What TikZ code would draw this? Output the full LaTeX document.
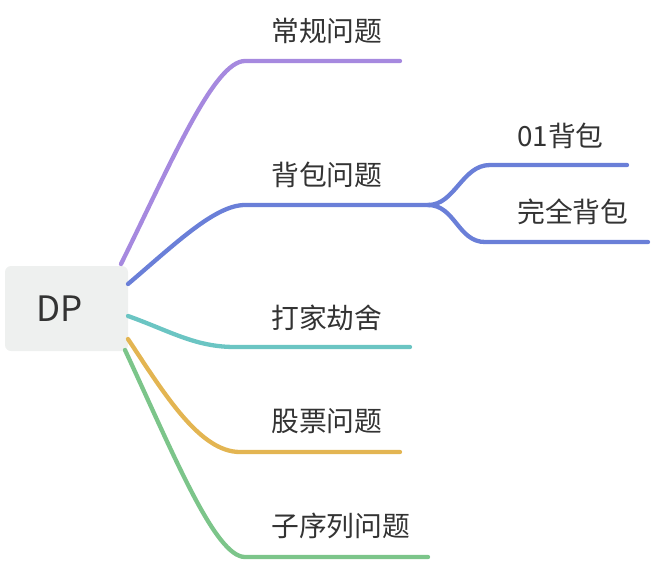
\documentclass[tikz,border=0pt]{standalone}
\usepackage{fontspec}
\setmainfont{Noto Sans CJK SC}
\definecolor{cpurple}{HTML}{A689DF}
\definecolor{cblue}{HTML}{6A7FD8}
\definecolor{cteal}{HTML}{6BC5C3}
\definecolor{corange}{HTML}{E3B552}
\definecolor{cgreen}{HTML}{7CC58A}
\definecolor{rootbg}{HTML}{EEF0EF}
\definecolor{txt}{HTML}{333333}
\begin{document}
\begin{tikzpicture}[x=1pt,y=-1pt,
  lbl/.style={anchor=west, inner sep=0pt, text=txt, font=\fontsize{27.8}{32}\selectfont},
  br/.style={line width=4.3pt, line cap=round}]
\useasboundingbox (0,0) rectangle (652,560);
% root
\node[fill=rootbg, rounded corners=6pt, minimum width=123pt, minimum height=85pt, inner sep=0pt,
      text=txt, font=\fontsize{35}{40}\selectfont] (root) at (66.5,308.5) {DP\hspace*{13pt}};
% coordinates
\coordinate (sP) at (121,264); \coordinate (mP) at (245,61);  \coordinate (eP) at (400,61);
\coordinate (sB) at (128,284); \coordinate (mB) at (245,205); \coordinate (kB) at (428,205);
\coordinate (mB1) at (490,165); \coordinate (eB1) at (627,165);
\coordinate (mB2) at (485,242); \coordinate (eB2) at (648,242);
\coordinate (sT) at (128,316); \coordinate (mT) at (235,347); \coordinate (eT) at (410,347);
\coordinate (sO) at (128,339); \coordinate (mO) at (240,452); \coordinate (eO) at (400,452);
\coordinate (sG) at (125,350); \coordinate (mG) at (245,557); \coordinate (eG) at (428,557);
% labels
\node[lbl] (l1) at (271,31) {常规问题};
\node[lbl] (l2) at (271,175) {背包问题};
\node[lbl] (l21) at (517,136) {01背包};
\node[lbl] (l22) at (517,212) {完全背包};
\node[lbl] (l3) at (271,318) {打家劫舍};
\node[lbl] (l4) at (271,421) {股票问题};
\node[lbl] (l5) at (271,526) {子序列问题};
% branches
\draw[br, cpurple] (sP) .. controls (171,163) and (214,61) .. (mP) -- (eP);
\draw[br, cblue] (sB) .. controls (175,244) and (215,205) .. (mB) -- (kB);
\draw[br, cblue] (kB) .. controls (455,205) and (462,165) .. (mB1) -- (eB1);
\draw[br, cblue] (kB) .. controls (455,205) and (458,242) .. (mB2) -- (eB2);
\draw[br, cteal] (sT) .. controls (170,331) and (195,347) .. (mT) -- (eT);
\draw[br, corange] (sO) .. controls (165,395) and (200,452) .. (mO) -- (eO);
\draw[br, cgreen] (sG) .. controls (173,453) and (215,557) .. (mG) -- (eG);
\end{tikzpicture}
\end{document}
